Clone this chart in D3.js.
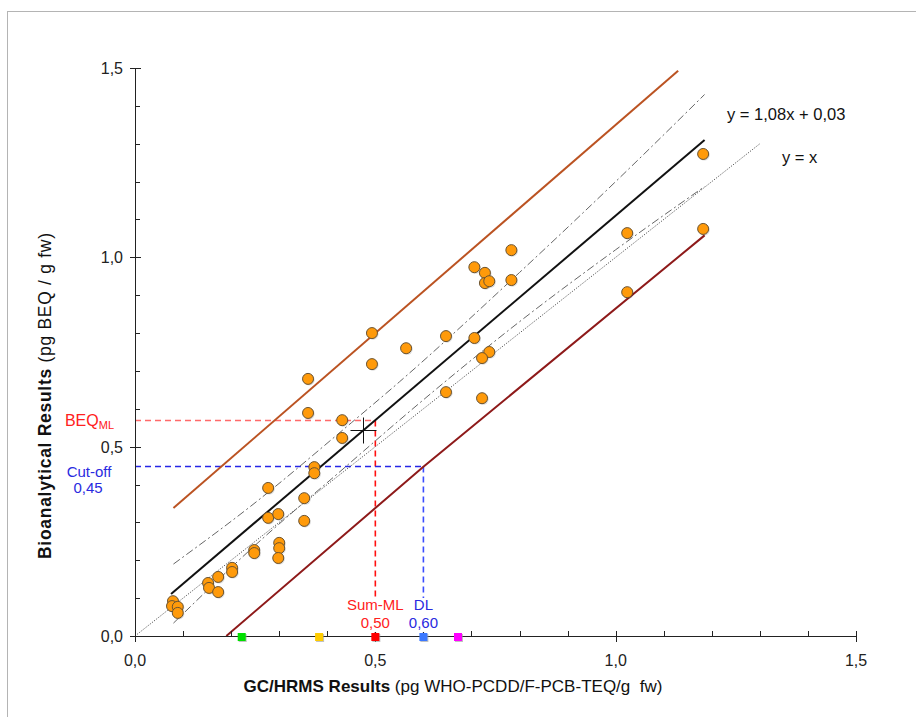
<!DOCTYPE html>
<html><head><meta charset="utf-8">
<script src="https://cdn.jsdelivr.net/npm/d3@7"></script>
<style>body{margin:0;background:#fff}svg{display:block}text{font-family:"Liberation Sans",Arial,sans-serif}</style>
</head><body>
<svg id="c" width="916" height="717"></svg>
<script>
// ---- data ----
const gcValues  = [0.079,0.077,0.089,0.089,0.152,0.154,0.173,0.173,0.202,0.202,0.248,0.248,0.300,0.300,0.298,0.277,0.277,0.298,0.352,0.352,0.360,0.360,0.373,0.373,0.431,0.431,0.493,0.493,0.564,0.647,0.647,0.706,0.728,0.728,0.737,0.783,0.783,0.706,0.737,0.722,0.722,1.024,1.024,1.182,1.182];
const beqValues = [0.092,0.079,0.077,0.061,0.140,0.127,0.156,0.116,0.180,0.169,0.227,0.219,0.246,0.232,0.206,0.391,0.312,0.322,0.364,0.304,0.679,0.589,0.446,0.430,0.570,0.523,0.800,0.718,0.760,0.792,0.644,0.974,0.959,0.932,0.937,1.019,0.940,0.787,0.750,0.734,0.628,1.064,0.908,1.273,1.075];
const regressionLine = [[0.075,0.111],[1.185,1.310]];
const upperLimitLine = [[0.08,0.338],[1.13,1.493]];
const lowerLimitLine = [[0.19,0.0],[0.60,0.447],[1.185,1.058]];
const identityLine   = [[0.0,0.0],[1.30,1.30]];
const upperBand = [[0.08,0.19],[0.24,0.342],[0.45,0.563],[0.55,0.671],[0.80,0.96],[1.00,1.20],[1.185,1.43]];
const lowerBand = [[0.08,0.034],[0.24,0.228],[0.44,0.449],[0.55,0.570],[0.80,0.83],[1.00,1.02],[1.185,1.187]];
const meanPoint = [0.475,0.543];
const sumML = 0.50, beqML = 0.57, cutOff = 0.45, detLimit = 0.60;
const axisMarkers = [{x:0.222,c:"#00e000"},{x:0.383,c:"#ffcc00"},{x:0.50,c:"#ff0000"},{x:0.60,c:"#3b78ff"},{x:0.672,c:"#ff00ff"}];
const majorTicks = [0,0.5,1.0,1.5];
const minorTicks = d3.range(0,1.51,0.1).map(v=>+v.toFixed(1));
const tickLabels = ["0,0","0,5","1,0","1,5"];

// ---- chart ----
const svg = d3.select("#c");
svg.append("rect").attr("x",7.5).attr("y",11.5).attr("width",1000).attr("height",800)
  .attr("fill","none").attr("stroke","#b4b4b4");
const x = d3.scaleLinear().domain([0,1.5]).range([135,856]);
const y = d3.scaleLinear().domain([0,1.5]).range([636,68]);
const px = v => Math.round(x(v))+0.5, py = v => Math.round(y(v))+0.5;
const line = d3.line().x(d=>x(d[0])).y(d=>y(d[1]));
const curve = d3.line().x(d=>x(d[0])).y(d=>y(d[1])).curve(d3.curveMonotoneX);

// reference dashed lines
const ref = svg.append("g").attr("fill","none").attr("stroke-dasharray","6,4");
ref.append("path").attr("d",`M${x(0)},${py(beqML)}H${px(sumML)}`).attr("stroke","#ff6a6a").attr("stroke-width",1.3);
ref.append("path").attr("d",`M${x(sumML)},${py(beqML)}V${y(0)}`).attr("stroke","#ff1010").attr("stroke-width",1.6);
ref.append("path").attr("d",`M${x(0)},${py(cutOff)}H${px(detLimit)}`).attr("stroke","#2626e6").attr("stroke-width",1.3);
ref.append("path").attr("d",`M${x(detLimit)},${py(cutOff)}V${y(0)}`).attr("stroke","#3a4cff").attr("stroke-width",1.6);

// lines
svg.append("path").attr("d",line(identityLine)).attr("fill","none").attr("stroke","#555").attr("stroke-width",1).attr("stroke-dasharray","1.2,1.5");
svg.append("path").attr("d",curve(upperBand)).attr("fill","none").attr("stroke","#666").attr("stroke-width",1).attr("stroke-dasharray","8,3,2,3");
svg.append("path").attr("d",curve(lowerBand)).attr("fill","none").attr("stroke","#666").attr("stroke-width",1).attr("stroke-dasharray","8,3,2,3");
svg.append("path").attr("d",line(upperLimitLine)).attr("fill","none").attr("stroke","#bb5322").attr("stroke-width",2);
svg.append("path").attr("d",line(lowerLimitLine)).attr("fill","none").attr("stroke","#8e1a1a").attr("stroke-width",2);
svg.append("path").attr("d",line(regressionLine)).attr("fill","none").attr("stroke","#111").attr("stroke-width",2);

// mean cross
const cx = Math.round(x(meanPoint[0]))+0.5, cy = Math.round(y(meanPoint[1]))+0.5;
svg.append("path").attr("d",`M${cx-13},${cy}H${cx+13}M${cx},${cy-13}V${cy+13}`).attr("stroke","#111").attr("stroke-width",1);

// points
const pts = gcValues.map((v,i)=>[v,beqValues[i]]);
svg.append("g").selectAll("circle").data(pts).join("circle")
  .attr("cx",d=>x(d[0])+1).attr("cy",d=>y(d[1])+1).attr("r",5.6).attr("fill","#000").attr("opacity",0.15);
svg.append("g").selectAll("circle").data(pts).join("circle")
  .attr("cx",d=>x(d[0])).attr("cy",d=>y(d[1])).attr("r",5.5)
  .attr("fill","#ff9a0a").attr("stroke","#6b5330").attr("stroke-width",1);

// axes
const ax = svg.append("g").attr("stroke","#222").attr("stroke-width",1).attr("shape-rendering","crispEdges");
ax.append("path").attr("d",`M${x(0)},${y(0)+0.5}H${x(1.5)}`);
ax.append("path").attr("d",`M${x(0)+0.5},${y(0)}V${y(1.5)}`);
minorTicks.forEach(t=>{
  ax.append("path").attr("d",`M${px(t)},${y(0)}v-5`);
  ax.append("path").attr("d",`M${x(0)},${py(t)}h5`);
});
majorTicks.forEach(t=>{
  ax.append("path").attr("d",`M${px(t)},${y(0)-5}v11`);
  ax.append("path").attr("d",`M${x(0)-5},${py(t)}h11`);
});
majorTicks.forEach((t,i)=>{
  svg.append("text").attr("x",x(t)).attr("y",y(0)+30).attr("text-anchor","middle")
    .attr("font-size",16).attr("fill","#222").text(tickLabels[i]);
  svg.append("text").attr("x",123).attr("y",y(t)+6).attr("text-anchor","end")
    .attr("font-size",16).attr("fill","#222").text(tickLabels[i]);
});

// axis markers
axisMarkers.forEach(m=>{
  svg.append("rect").attr("x",x(m.x)-3).attr("y",y(0)-2).attr("width",8).attr("height",8).attr("fill","#999").attr("opacity",0.6);
  svg.append("rect").attr("x",x(m.x)-4).attr("y",y(0)-3).attr("width",8).attr("height",8).attr("fill",m.c);
});

// annotations (white backing so dashed verticals stop behind labels)
function label(xp, yp, txt, col, size, anchor){
  return svg.append("text").attr("x",xp).attr("y",yp).attr("text-anchor",anchor||"middle")
    .attr("font-size",size).attr("fill",col).text(txt);
}
svg.append("rect").attr("x",x(sumML)-8).attr("y",598).attr("width",16).attr("height",34).attr("fill","#fff");
svg.append("rect").attr("x",x(detLimit)-8).attr("y",598).attr("width",16).attr("height",34).attr("fill","#fff");
label(x(sumML),610,"Sum-ML","#ff2020",15);
label(x(sumML),628,"0,50","#ff2020",15);
label(x(detLimit),610,"DL","#2a2ae0",15);
label(x(detLimit),628,"0,60","#2a2ae0",15);
const beqT = svg.append("text").attr("x",114).attr("y",426).attr("text-anchor","end").attr("fill","#ff2020").attr("font-size",16);
beqT.append("tspan").text("BEQ");
beqT.append("tspan").attr("font-size",11).attr("dy",3).text("ML");
label(89,477,"Cut-off","#2a2ae0",15);
label(88,493,"0,45","#2a2ae0",15);
svg.append("text").attr("x",727).attr("y",120).attr("font-size",16.5).attr("fill","#111").text("y = 1,08x + 0,03");
svg.append("text").attr("x",782).attr("y",163).attr("font-size",16.5).attr("fill","#111").text("y = x");

// axis titles
const xt = svg.append("text").attr("x",453).attr("y",692).attr("text-anchor","middle").attr("font-size",17)
  .attr("fill","#111").attr("textLength",419).attr("lengthAdjust","spacing").style("white-space","pre");
xt.append("tspan").attr("font-weight","bold").text("GC/HRMS Results");
xt.append("tspan").text(" (pg WHO-PCDD/F-PCB-TEQ/g  fw)");
const yt = svg.append("text").attr("transform","translate(51,396) rotate(-90)").attr("text-anchor","middle").attr("font-size",17.5)
  .attr("fill","#111").attr("textLength",326).attr("lengthAdjust","spacing");
yt.append("tspan").attr("font-weight","bold").text("Bioanalytical Results");
yt.append("tspan").text(" (pg BEQ / g fw)");
</script>
</body></html>
